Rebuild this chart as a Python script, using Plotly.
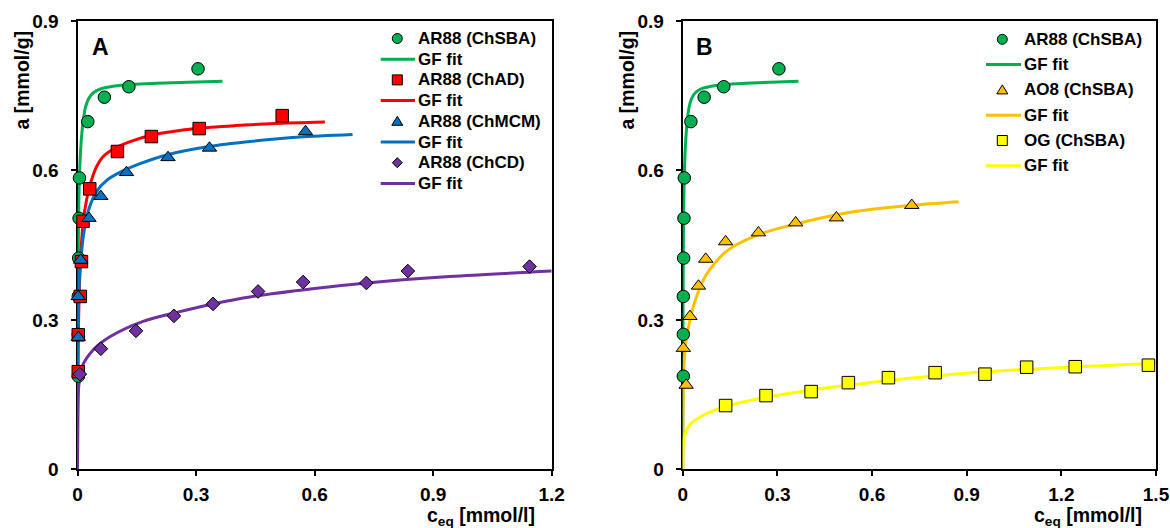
import plotly.graph_objects as go

W, H = 1170, 528

# ---------------- measured isotherms: c_eq [mmol/l], a [mmol/g] ----------------
ar88_sba_c = [0.002, 0.002, 0.002, 0.003, 0.004, 0.005, 0.026, 0.068, 0.130, 0.305]
ar88_sba_a = [0.187, 0.271, 0.347, 0.424, 0.504, 0.585, 0.698, 0.747, 0.768, 0.804]

ar88_ad_c = [0.002, 0.002, 0.007, 0.010, 0.014, 0.031, 0.101, 0.187, 0.308, 0.518]
ar88_ad_a = [0.196, 0.270, 0.347, 0.417, 0.498, 0.563, 0.638, 0.668, 0.684, 0.710]

ar88_mcm_c = [0.002, 0.002, 0.008, 0.029, 0.059, 0.124, 0.229, 0.334, 0.577]
ar88_mcm_a = [0.265, 0.347, 0.420, 0.504, 0.548, 0.596, 0.626, 0.645, 0.678]

ar88_cd_c = [0.006, 0.059, 0.148, 0.244, 0.343, 0.457, 0.571, 0.731, 0.836, 1.144]
ar88_cd_a = [0.191, 0.242, 0.278, 0.308, 0.332, 0.357, 0.376, 0.374, 0.398, 0.407]

ao8_sba_c = [0.011, 0.002, 0.023, 0.050, 0.073, 0.136, 0.240, 0.358, 0.487, 0.726]
ao8_sba_a = [0.169, 0.243, 0.307, 0.368, 0.422, 0.457, 0.475, 0.495, 0.505, 0.530]

og_sba_c = [0.136, 0.264, 0.407, 0.525, 0.652, 0.800, 0.958, 1.090, 1.244, 1.476]
og_sba_a = [0.128, 0.148, 0.156, 0.174, 0.184, 0.194, 0.191, 0.205, 0.206, 0.209]

# ---------------- GF fit curves (sampled along each fitted line) ----------------
fit_ar88_sba_c = [0, 0.0004, 0.001, 0.002, 0.0035, 0.006, 0.01, 0.015, 0.02, 0.028,
                  0.04, 0.06, 0.09, 0.14, 0.2, 0.28, 0.367]
fit_ar88_sba_a = [0, 0.18, 0.32, 0.44, 0.54, 0.61, 0.665, 0.703, 0.726, 0.744,
                  0.756, 0.764, 0.769, 0.773, 0.775, 0.777, 0.779]

fit_ar88_ad_c = [0, 0.0005, 0.0015, 0.003, 0.0046, 0.009, 0.0147, 0.023, 0.0333,
                 0.0485, 0.065, 0.1, 0.133, 0.19, 0.3, 0.4, 0.5, 0.626]
fit_ar88_ad_a = [0, 0.14, 0.24, 0.31, 0.36, 0.441, 0.499, 0.541, 0.575,
                 0.608, 0.628, 0.647, 0.658, 0.671, 0.684, 0.690, 0.694, 0.697]

fit_ar88_mcm_c = [0, 0.0005, 0.002, 0.005, 0.009, 0.0147, 0.027, 0.0485, 0.074,
                  0.107, 0.16, 0.23, 0.333, 0.436, 0.563, 0.696]
fit_ar88_mcm_a = [0, 0.15, 0.30, 0.385, 0.425, 0.468, 0.518, 0.558, 0.580,
                  0.596, 0.614, 0.632, 0.648, 0.658, 0.667, 0.672]

fit_ar88_cd_c = [0, 0.0003, 0.001, 0.003, 0.011, 0.04, 0.082, 0.166, 0.251,
                 0.343, 0.436, 0.6, 0.731, 0.942, 1.2]
fit_ar88_cd_a = [0, 0.08, 0.125, 0.165, 0.205, 0.240, 0.266, 0.297, 0.315,
                 0.332, 0.346, 0.363, 0.374, 0.387, 0.398]

fit_ao8_sba_c = [0, 0.0003, 0.001, 0.0025, 0.005, 0.01, 0.018, 0.039, 0.076,
                 0.139, 0.24, 0.361, 0.488, 0.6, 0.726, 0.874]
fit_ao8_sba_a = [0, 0.07, 0.13, 0.18, 0.22, 0.255, 0.285, 0.338, 0.392,
                 0.438, 0.471, 0.493, 0.511, 0.522, 0.530, 0.537]

fit_og_sba_c = [0, 0.0003, 0.002, 0.008, 0.023, 0.076, 0.136, 0.264, 0.407,
                0.5, 0.689, 0.9, 1.218, 1.5]
fit_og_sba_a = [0, 0.03, 0.052, 0.072, 0.09, 0.112, 0.126, 0.145, 0.159,
                0.167, 0.181, 0.193, 0.205, 0.213]

# ---------------- ticks ----------------
x_ticks_a = [0, 0.3, 0.6, 0.9, 1.2]
x_ticks_b = [0, 0.3, 0.6, 0.9, 1.2, 1.5]
x_labels_a = ["0", "0.3", "0.6", "0.9", "1.2"]
x_labels_b = ["0", "0.3", "0.6", "0.9", "1.2", "1.5"]
y_ticks = [0, 0.3, 0.6, 0.9]
y_labels = ["0", "0.3", "0.6", "0.9"]

legend_a = ["AR88 (ChSBA)", "GF fit", "AR88 (ChAD)", "GF fit",
            "AR88 (ChMCM)", "GF fit", "AR88 (ChCD)", "GF fit"]
legend_b = ["AR88 (ChSBA)", "GF fit", "AO8 (ChSBA)", "GF fit",
            "OG (ChSBA)", "GF fit"]

GREEN, RED, BLUE, PURPLE = "#00B050", "#FF0000", "#0070C0", "#7030A0"
ORANGE, YELLOW = "#FFC000", "#FFFF00"
FONT = "Liberation Sans, Arial, sans-serif"


def bold(s):
    return f"<b>{s}</b>"


def px_x(p):
    return p / W


def px_y(p):
    return 1 - p / H


fig = go.Figure()


def add_fit(c, a, color, xa, ya):
    fig.add_trace(go.Scatter(x=c, y=a, mode="lines", xaxis=xa, yaxis=ya,
                             line=dict(color=color, width=3, shape="spline", smoothing=0.8),
                             cliponaxis=False, showlegend=False, hoverinfo="skip"))


def add_points(c, a, color, symbol, size, xa, ya):
    fig.add_trace(go.Scatter(x=c, y=a, mode="markers", xaxis=xa, yaxis=ya,
                             marker=dict(color=color, symbol=symbol, size=size,
                                         line=dict(color="black", width=1)),
                             cliponaxis=False, showlegend=False))


# panel A
add_fit(fit_ar88_sba_c, fit_ar88_sba_a, GREEN, "x", "y")
add_fit(fit_ar88_ad_c, fit_ar88_ad_a, RED, "x", "y")
add_fit(fit_ar88_mcm_c, fit_ar88_mcm_a, BLUE, "x", "y")
add_fit(fit_ar88_cd_c, fit_ar88_cd_a, PURPLE, "x", "y")
add_points(ar88_sba_c, ar88_sba_a, GREEN, "circle", 12.5, "x", "y")
add_points(ar88_ad_c, ar88_ad_a, RED, "square", 12.5, "x", "y")
add_points(ar88_mcm_c, ar88_mcm_a, BLUE, "triangle-up", 12.5, "x", "y")
add_points(ar88_cd_c, ar88_cd_a, PURPLE, "diamond", 10.5, "x", "y")

# panel B
add_fit(fit_ar88_sba_c, fit_ar88_sba_a, GREEN, "x2", "y2")
add_fit(fit_ao8_sba_c, fit_ao8_sba_a, ORANGE, "x2", "y2")
add_fit(fit_og_sba_c, fit_og_sba_a, YELLOW, "x2", "y2")
add_points(ar88_sba_c, ar88_sba_a, GREEN, "circle", 12.5, "x2", "y2")
add_points(ao8_sba_c, ao8_sba_a, ORANGE, "triangle-up", 12.5, "x2", "y2")
add_points(og_sba_c, og_sba_a, YELLOW, "square", 12.5, "x2", "y2")

axis_style = dict(showline=True, linecolor="black", linewidth=2, mirror=True,
                  ticks="outside", ticklen=5, tickwidth=1.5, tickcolor="black",
                  showgrid=False, zeroline=False, automargin=False, fixedrange=True,
                  layer="below traces",
                  tickfont=dict(family=FONT, size=19, color="black"))

y_dom = [px_y(469.3), px_y(21)]
fig.update_layout(
    width=W, height=H, margin=dict(l=0, r=0, t=0, b=0),
    paper_bgcolor="white", plot_bgcolor="white",
    font=dict(family=FONT, color="black"),
    xaxis=dict(domain=[px_x(77.5), px_x(551.7)], range=[0, 1.2], anchor="y",
               tickvals=x_ticks_a, ticktext=[bold(t) for t in x_labels_a],
               ticklabelstandoff=2, **axis_style),
    yaxis=dict(domain=y_dom, range=[0, 0.9], anchor="x",
               tickvals=y_ticks, ticktext=[bold(t) for t in y_labels],
               ticklabelstandoff=8, **axis_style),
    xaxis2=dict(domain=[px_x(682.7), px_x(1156)], range=[0, 1.5], anchor="y2",
                tickvals=x_ticks_b, ticktext=[bold(t) for t in x_labels_b],
                ticklabelstandoff=2, **axis_style),
    yaxis2=dict(domain=y_dom, range=[0, 0.9], anchor="x2",
                tickvals=y_ticks, ticktext=[bold(t) for t in y_labels],
                ticklabelstandoff=8, **axis_style),
)

annotations = []
shapes = []


def text(xp, yp, s, size, xanchor="center", yanchor="middle", **kw):
    annotations.append(dict(x=px_x(xp), y=px_y(yp), xref="paper", yref="paper",
                            text=bold(s), showarrow=False,
                            xanchor=xanchor, yanchor=yanchor,
                            font=dict(family=FONT, size=size, color="black"),
                            **kw))


# panel letters and axis titles
text(100.5, 47, "A", 23)
text(704.5, 47, "B", 23)
for cx in (21.5, 626.5):
    text(cx, 80, "a [mmol/g]", 19.5, textangle=-90)
text(481, 516, "c<sub>eq</sub> [mmol/l]", 19.5)
text(1088, 516, "c<sub>eq</sub> [mmol/l]", 19.5)


def legend_marker(symbol, cx, cy, color, s=10):
    r = s / 2
    style = dict(xref="paper", yref="paper", fillcolor=color,
                 line=dict(color="black", width=1), layer="above")
    if symbol in ("circle", "rect"):
        shapes.append(dict(type=symbol, x0=px_x(cx - r), x1=px_x(cx + r),
                           y0=px_y(cy + r), y1=px_y(cy - r), **style))
    else:
        if symbol == "triangle":
            pts = [(cx, cy - r), (cx + r * 1.1, cy + r * 0.8), (cx - r * 1.1, cy + r * 0.8)]
        else:  # diamond
            pts = [(cx, cy - r), (cx + r, cy), (cx, cy + r), (cx - r, cy)]
        path = "M " + " L ".join(f"{px_x(a):.6f},{px_y(b):.6f}" for a, b in pts) + " Z"
        shapes.append(dict(type="path", path=path, **style))


def legend_line(x0, x1, cy, color):
    shapes.append(dict(type="line", xref="paper", yref="paper",
                       x0=px_x(x0), x1=px_x(x1), y0=px_y(cy), y1=px_y(cy),
                       line=dict(color=color, width=3), layer="above"))


def build_legend(labels, kinds, x_text, x_mark, x_l0, x_l1, y0, dy):
    for i, (lab, (kind, color)) in enumerate(zip(labels, kinds)):
        cy = y0 + i * dy
        if kind == "line":
            legend_line(x_l0, x_l1, cy, color)
        else:
            legend_marker(kind, x_mark, cy, color)
        text(x_text, cy, lab, 17, xanchor="left")


build_legend(legend_a,
             [("circle", GREEN), ("line", GREEN), ("rect", RED), ("line", RED),
              ("triangle", BLUE), ("line", BLUE), ("diamond", PURPLE), ("line", PURPLE)],
             415.5, 397.3, 380.7, 415, 38.5, 20.7)
build_legend(legend_b,
             [("circle", GREEN), ("line", GREEN), ("triangle", ORANGE), ("line", ORANGE),
              ("rect", YELLOW), ("line", YELLOW)],
             1021.5, 1002.3, 986, 1021, 39.3, 25.3)

fig.update_layout(annotations=annotations, shapes=shapes)
fig.write_html("out.html")
